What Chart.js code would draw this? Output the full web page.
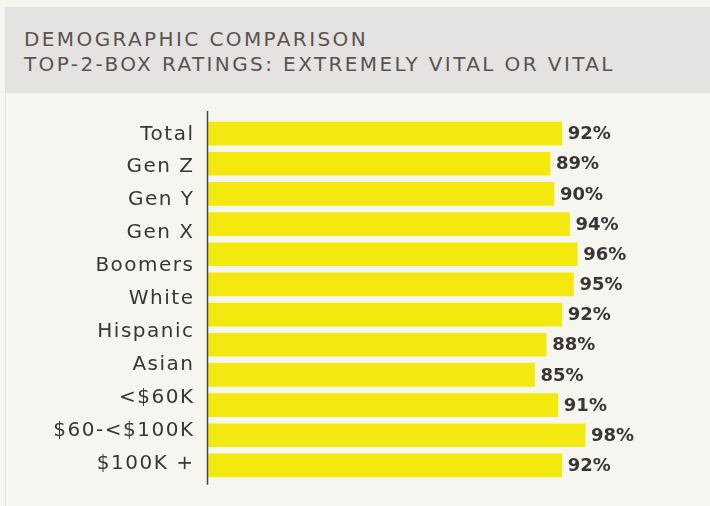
<!DOCTYPE html>
<html>
<head>
<meta charset="utf-8">
<script src="https://cdn.jsdelivr.net/npm/chart.js@4.4.1/dist/chart.umd.min.js"></script>
<style>
  html, body { margin: 0; padding: 0; }
  body { width: 710px; height: 506px; background: #f6f6f0; position: relative; overflow: hidden; }
  #edge { position: absolute; left: 5px; top: 7px; width: 0; height: 499px; border-left: 1px solid #e2e2dc; }
  #header {
    position: absolute; left: 5px; top: 7px; width: 705px; height: 86px;
    background: #e4e3e1; box-sizing: border-box; padding: 20px 0 0 19px;
    font-family: "DejaVu Sans", sans-serif; font-size: 20px; line-height: 25px;
    letter-spacing: 2.4px; color: #5c5250; white-space: nowrap;
  }
  #wrap { position: absolute; left: 0; top: 93px; width: 710px; height: 413px; }
</style>
</head>
<body>
<div id="edge"></div>
<div id="header">DEMOGRAPHIC COMPARISON<br>TOP-2-BOX RATINGS: EXTREMELY VITAL OR VITAL</div>
<div id="wrap"><canvas id="myChart"></canvas></div>
<script>
// labels as printed on the left (11 of them, the source chart has 12 bars)
const categories = ['Total', 'Gen Z', 'Gen Y', 'Gen X', 'Boomers', 'White', 'Hispanic', 'Asian', '<$60K', '$60-<$100K', '$100K +'];
// top-2-box %, one per bar, top to bottom
const values = [92, 89, 90, 94, 96, 95, 92, 88, 85, 91, 98, 92];
const barKeys = values.map((v, i) => 'bar' + (i + 1));

const textColor = '#3b3535';

//AXIS LINE (runs a bit past the bars, like the original)
const axisLine = {
  id: 'axisLine',
  afterDatasetsDraw(chart) {
    const { ctx, chartArea } = chart;
    ctx.save();
    ctx.strokeStyle = '#4a4444';
    ctx.lineWidth = 1.5;
    ctx.beginPath();
    ctx.moveTo(chartArea.left - 0.5, chartArea.top - 7.5);
    ctx.lineTo(chartArea.left - 0.5, chartArea.bottom + 4.3);
    ctx.stroke();
    ctx.restore();
  }
};

//VALUE LABELS
const valueLabels = {
  id: 'valueLabels',
  afterDatasetsDraw(chart) {
    const { ctx } = chart;
    const meta = chart.getDatasetMeta(0);
    ctx.save();
    ctx.letterSpacing = '0px';
    ctx.font = 'bold 18px "DejaVu Sans"';
    ctx.fillStyle = textColor;
    ctx.textAlign = 'left';
    ctx.textBaseline = 'middle';
    meta.data.forEach((bar, i) => {
      ctx.fillText(values[i] + '%', bar.x + 6, bar.y + 1);
    });
    ctx.restore();
  }
};

//WIDE TICK TEXT
const spacing = {
  id: 'spacing',
  beforeDraw(chart) {
    chart.ctx.letterSpacing = '1.5px';
  }
};

const ctx = document.getElementById('myChart');

new Chart(ctx, {
  type: 'bar',
  data: {
    labels: barKeys,
    datasets: [{
      data: values,
      backgroundColor: '#f3e90f',
      borderWidth: 0,
      barThickness: 23
    }]
  },
  options: {
    indexAxis: 'y',
    responsive: true,
    maintainAspectRatio: false,
    animation: false,
    layout: {
      padding: { top: 24, bottom: 23.3, left: 0, right: 20 }
    },
    plugins: {
      legend: { display: false },
      tooltip: { enabled: false }
    },
    scales: {
      x: {
        type: 'linear',
        min: 1,
        max: 125,
        display: false
      },
      y: {
        type: 'category',
        display: false
      },
      names: {
        type: 'linear',
        position: 'left',
        reverse: true,
        offset: false,
        bounds: 'data',
        min: -0.48,
        max: 10.502,
        grid: { display: false, drawTicks: false },
        border: { display: false },
        afterBuildTicks(scale) {
          scale.ticks = categories.map((c, i) => ({ value: i }));
        },
        afterFit(scale) {
          scale.width = 208;
        },
        ticks: {
          padding: 13.5,
          color: textColor,
          font: { family: 'DejaVu Sans', size: 20 },
          callback: (value) => categories[value]
        }
      }
    }
  },
  plugins: [spacing, axisLine, valueLabels]
});
</script>
</body>
</html>
